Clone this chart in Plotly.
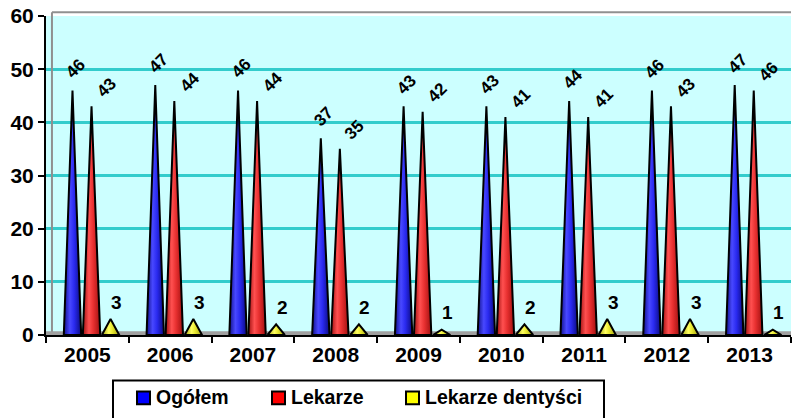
import plotly.graph_objects as go

years = ["2005", "2006", "2007", "2008", "2009", "2010", "2011", "2012", "2013"]
ogolem = [46, 47, 46, 37, 43, 43, 44, 46, 47]
lekarze = [43, 44, 44, 35, 42, 41, 41, 43, 46]
dentysci = [3, 3, 2, 2, 1, 2, 3, 3, 1]
series_names = ["Ogółem", "Lekarze", "Lekarze dentyści"]
y_ticks = [0, 10, 20, 30, 40, 50, 60]

series = [ogolem, lekarze, dentysci]
offsets = [-0.18, 0.05, 0.28]
half_w = 0.105
legend_colors = ["#0000FF", "#FF0000", "#FFFF00"]
gradients = [
    [[0, "#10108A"], [0.35, "#4848FF"], [0.6, "#2A2AF0"], [1, "#0A0A80"]],
    [[0, "#A01010"], [0.35, "#FF5050"], [0.6, "#E83030"], [1, "#A01010"]],
    [[0, "#A0A010"], [0.4, "#FFFF60"], [0.6, "#E8E830"], [1, "#A0A010"]],
]
label_shift = [(3, 22), (15, 19), (6, 17)]
label_angle = [-45, -45, 0]
label_size = [17, 17, 19]

FONT = "Liberation Sans"
W, H = 795, 418
ML, MR, MT, MB = 46, 4, 13, 83
PW, PH = W - ML - MR, H - MT - MB


def px_x(px):
    return (px - ML) / PW


def px_y(py):
    return (H - MB - py) / PH


fig = go.Figure()

annotations = []
for s, vals in enumerate(series):
    for i, v in enumerate(vals):
        xc = i + offsets[s]
        fig.add_trace(go.Scatter(
            x=[xc - half_w, xc, xc + half_w, xc - half_w],
            y=[0, v, 0, 0],
            mode="lines",
            fill="toself",
            fillgradient=dict(type="horizontal", colorscale=gradients[s]),
            line=dict(color="black", width=2),
            showlegend=False,
            hoverinfo="skip",
        ))
        annotations.append(dict(
            x=xc, y=v, xref="x", yref="y",
            text=f"<b>{v}</b>", showarrow=False,
            textangle=label_angle[s],
            xshift=label_shift[s][0], yshift=label_shift[s][1],
            font=dict(family=FONT, size=label_size[s], color="black"),
        ))

shapes = [
    dict(type="rect", xref="paper", yref="y", x0=0, x1=1, y0=0, y1=0.7,
         fillcolor="#A0A0A0", line=dict(width=0), layer="below"),
    dict(type="line", xref="paper", yref="paper", x0=0.008, x1=1, y0=1.012, y1=1.012,
         line=dict(color="#909090", width=2)),
    dict(type="line", xref="paper", yref="paper", x0=0.008, x1=0.008, y0=0.01, y1=1.012,
         line=dict(color="#909090", width=2)),
    # legend box
    dict(type="rect", xref="paper", yref="paper",
         x0=px_x(113), x1=px_x(604), y0=px_y(381), y1=px_y(425),
         line=dict(color="black", width=2), fillcolor="white"),
]

legend_sq_x = [137, 272, 406]
for s, name in enumerate(series_names):
    x0 = legend_sq_x[s]
    shapes.append(dict(
        type="rect", xref="paper", yref="paper",
        x0=px_x(x0), x1=px_x(x0 + 13), y0=px_y(392), y1=px_y(405),
        fillcolor=legend_colors[s], line=dict(color="black", width=2),
    ))
    annotations.append(dict(
        x=px_x(x0 + 17), y=px_y(398), xref="paper", yref="paper",
        xanchor="left", yanchor="middle", showarrow=False,
        text=f"<b>{name}</b>",
        font=dict(family=FONT, size=19.5, color="black"),
    ))

fig.update_layout(
    width=W, height=H,
    margin=dict(l=ML, r=MR, t=MT, b=MB),
    paper_bgcolor="white",
    plot_bgcolor="#CCFFFF",
    font=dict(family=FONT, color="black"),
    annotations=annotations,
    shapes=shapes,
    showlegend=False,
    xaxis=dict(
        range=[-0.5, 8.5], tickmode="array", tickvals=list(range(len(years))),
        ticktext=years, ticks="", showgrid=False, zeroline=False,
        showline=True, linecolor="black", linewidth=2,
        tickfont=dict(family=FONT, size=21, weight="bold"),
        minor=dict(tickmode="linear", tick0=-0.5, dtick=1, ticks="outside",
                   ticklen=6, tickwidth=2, tickcolor="black", showgrid=False),
        fixedrange=True,
    ),
    yaxis=dict(
        range=[0, 60], tickmode="array", tickvals=y_ticks,
        ticks="outside", ticklen=6, tickwidth=2, tickcolor="black",
        showline=True, linecolor="black", linewidth=2,
        showgrid=True, gridcolor="#33CCCC", gridwidth=2.5, zeroline=False,
        tickfont=dict(family=FONT, size=21, weight="bold"),
        fixedrange=True,
    ),
)

fig.write_html("out.html", config={"displayModeBar": False},
               post_script="document.body.style.margin='0';document.body.style.overflow='hidden';")
